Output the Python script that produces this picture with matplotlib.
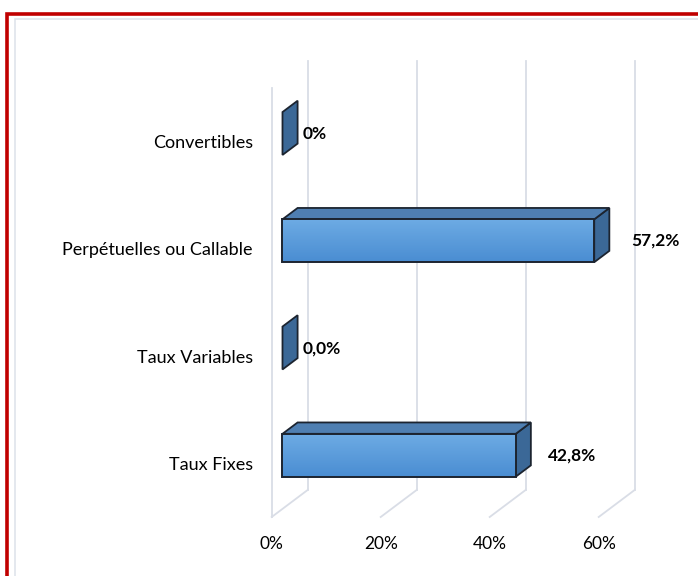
import matplotlib
matplotlib.use("Agg")
import matplotlib.pyplot as plt
import numpy as np
from matplotlib.patches import Polygon, Rectangle
from matplotlib.colors import to_rgb

categories = ['Taux Fixes', 'Taux Variables', 'Perpétuelles ou Callable', 'Convertibles']
values = [42.8, 0.0, 57.2, 0.0]
value_labels = ['42,8%', '0,0%', '57,2%', '0%']
x_ticks = [0, 20, 40, 60]
x_tick_labels = ['0%', '20%', '40%', '60%']

plt.rcParams['font.family'] = ['Lato', 'DejaVu Sans']

W, H = 698, 576
fig = plt.figure(figsize=(W / 100, H / 100), dpi=100)

# frame (red outer border, light inner line)
fig.add_artist(Rectangle((7.5 / W, -0.1), 1.2, (H - 14) / H + 0.1, transform=fig.transFigure,
                         fill=False, edgecolor='#c00000', linewidth=2.6))
fig.add_artist(Rectangle((14.7 / W, -0.1), 1.2, (H - 19) / H + 0.1, transform=fig.transFigure,
                         fill=False, edgecolor='#dde2ea', linewidth=1.1))

# front plane of the 3d plot
ax = fig.add_axes([271.7 / W, (H - 517) / H, 327 / W, 429 / H])
for s in ax.spines.values():
    s.set_visible(False)

# depth projection (in data units per unit of depth)
DX, DY = 6.6, 0.252
d0, d1 = 0.3, 0.72
ox0, oy0 = d0 * DX, d0 * DY
ox1, oy1 = d1 * DX, d1 * DY
h = 0.2

grid_col = '#d9dde6'
ax.plot([0, 0], [-0.5, 3.5], color=grid_col, lw=1.3, clip_on=False, zorder=1)
for v in x_ticks:
    ax.plot([v + DX, v + DX], [-0.5 + DY, 3.5 + DY], color=grid_col, lw=1.3, clip_on=False, zorder=1)
    ax.plot([v, v + DX], [-0.5, -0.5 + DY], color=grid_col, lw=1.3, clip_on=False, zorder=1)

edge = '#1c2430'
top_col = '#4f7fb2'
side_col = '#3b6897'
c_top, c_bot = np.array(to_rgb('#6dabe4')), np.array(to_rgb('#4a8dd2'))
grad = np.linspace(0, 1, 64)[:, None, None] * (c_bot - c_top) + c_top

for i, v in enumerate(values):
    yb, yt = i - h, i + h
    # end face of the bar (the only visible face when value is 0)
    side = Polygon([(v + ox0, yb + oy0), (v + ox1, yb + oy1), (v + ox1, yt + oy1), (v + ox0, yt + oy0)],
                   closed=True, facecolor=side_col, edgecolor=edge, lw=1.3, clip_on=False, zorder=3)
    ax.add_patch(side)
    if v > 0:
        top = Polygon([(ox0, yt + oy0), (v + ox0, yt + oy0), (v + ox1, yt + oy1), (ox1, yt + oy1)],
                      closed=True, facecolor=top_col, edgecolor=edge, lw=1.3, clip_on=False, zorder=3)
        ax.add_patch(top)
        front = Rectangle((ox0, yb + oy0), v, 2 * h, facecolor='none', edgecolor=edge, lw=1.4,
                          clip_on=False, zorder=5)
        ax.add_patch(front)
        im = ax.imshow(grad, extent=(ox0, v + ox0, yb + oy0, yt + oy0), aspect='auto',
                       origin='upper', zorder=4)
        im.set_clip_path(front)
    ax.text(1.053 * v + 5.7, i + oy0, value_labels[i], ha='left', va='center',
            fontsize=12.5, fontweight='bold', color='black', zorder=6)

ax.set_xlim(0, 60)
ax.set_ylim(-0.5, 3.5)
ax.set_xticks(x_ticks, labels=x_tick_labels)
ax.set_yticks(range(len(categories)), labels=categories)
ax.tick_params(axis='both', length=0, colors='black')
ax.tick_params(axis='x', pad=14, labelsize=12.5)
ax.tick_params(axis='y', pad=13.5, labelsize=13)
ax.patch.set_visible(False)

fig.savefig('out.png', dpi=100)
